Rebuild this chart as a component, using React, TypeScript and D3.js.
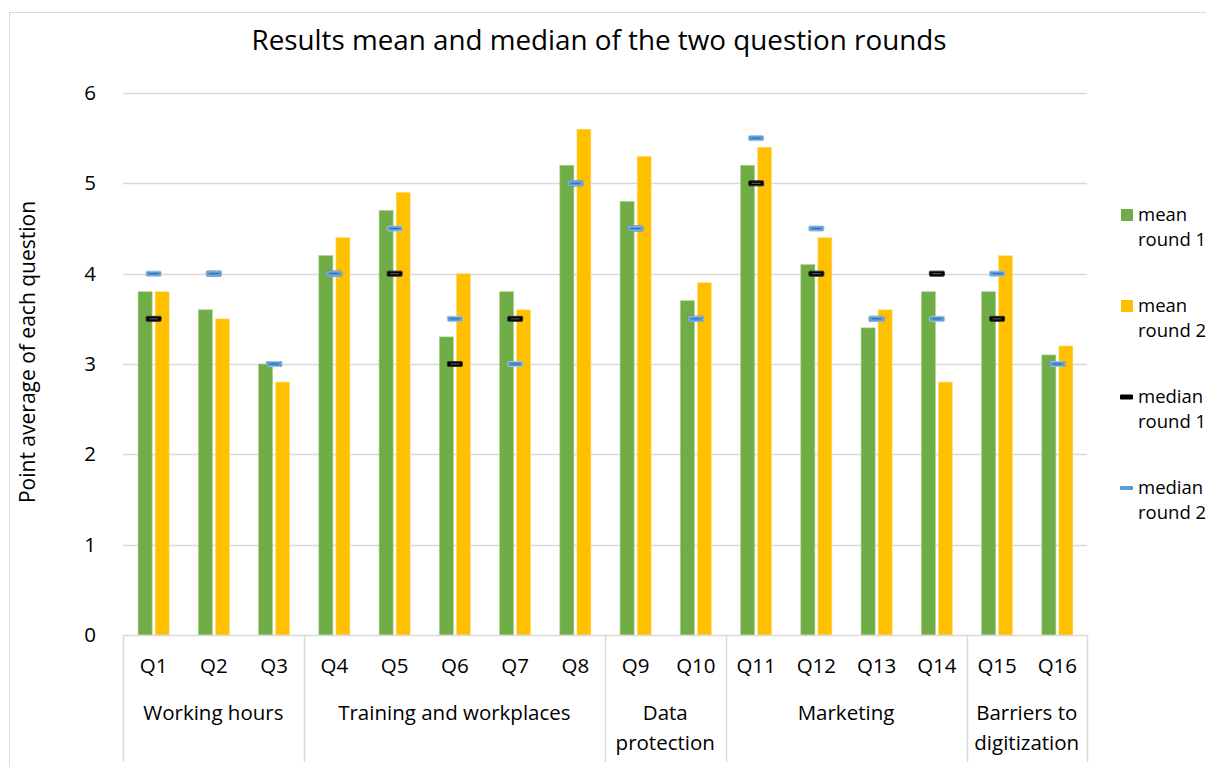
import React from 'react';
import * as d3 from 'd3';

const questions = ['Q1','Q2','Q3','Q4','Q5','Q6','Q7','Q8','Q9','Q10','Q11','Q12','Q13','Q14','Q15','Q16'];
const meanRound1 = [3.8,3.6,3.0,4.2,4.7,3.3,3.8,5.2,4.8,3.7,5.2,4.1,3.4,3.8,3.8,3.1];
const meanRound2 = [3.8,3.5,2.8,4.4,4.9,4.0,3.6,5.6,5.3,3.9,5.4,4.4,3.6,2.8,4.2,3.2];
const medianRound1 = [3.5,4,3,4,4,3,3.5,5,4.5,3.5,5,4,3.5,4,3.5,3];
const medianRound2 = [4,4,3,4,4.5,3.5,3,5,4.5,3.5,5.5,4.5,3.5,3.5,4,3];
const groupLabels = [['Working hours'],['Training and workplaces'],['Data','protection'],['Marketing'],['Barriers to','digitization']];
const groupSizes = [3,5,2,4,2];
const yTicks = [0,1,2,3,4,5,6];
const legendLabels = [['mean','round 1'],['mean','round 2'],['median','round 1'],['median','round 2']];

const GREEN = '#70ad47';
const YELLOW = '#ffc000';
const BLUE = '#5b9bd5';
const GRID = '#d9d9d9';
const FONT = '"Open Sans", Lato, sans-serif';
const FS = 20.5;

export default function App() {
  const x = d3.scaleBand<string>().domain(questions).range([123, 1087]).paddingInner(0).paddingOuter(0);
  const y = d3.scaleLinear().domain([0, 6]).range([635, 93]);
  const bw = x.bandwidth();
  const barW = bw * 0.233;
  const gap = 3;
  const cx = (q: string) => (x(q) as number) + bw / 2;

  const boundaries: number[] = [];
  let acc = 0;
  boundaries.push(x.range()[0]);
  groupSizes.forEach(s => { acc += s; boundaries.push(x(questions[acc - 1]) as number + bw); });

  const medianMarker = (key: string, cxv: number, cyv: number, kind: 'black' | 'blue') => (
    <g key={key}>
      <rect x={cxv - 7.5} y={cyv - 2.5} width={15} height={5} rx={1}
        fill={kind === 'black' ? '#000' : BLUE}
        stroke={kind === 'black' ? '#333' : '#9dc3e6'} strokeWidth={1} />
      <line x1={cxv - 4.5} x2={cxv + 4.5} y1={cyv} y2={cyv}
        stroke={kind === 'black' ? '#666' : '#2e6db0'} strokeWidth={1} />
    </g>
  );

  let groupStart = 0;
  const groupEls = groupLabels.map((lines, gi) => {
    const s = groupStart;
    const e = groupStart + groupSizes[gi];
    groupStart = e;
    const left = x(questions[s]) as number;
    const right = (x(questions[e - 1]) as number) + bw;
    const mid = (left + right) / 2;
    return (
      <text key={'g' + gi} x={mid} y={720} textAnchor="middle" fontFamily={FONT} fontSize={FS} fill="#000">
        {lines.map((l, li) => (
          <tspan key={li} x={mid} dy={li === 0 ? 0 : 30}>{l}</tspan>
        ))}
      </text>
    );
  });

  const legendY = [215, 306, 397, 488];

  return (
    <svg width={1206} height={767} style={{ position: 'absolute', left: 0, top: 0, background: '#fff' }}>
      <rect x={0} y={0} width={1206} height={767} fill="#fff" />
      <rect x={9.5} y={12.5} width={1210} height={780} fill="none" stroke={GRID} strokeWidth={1} />
      <text x={599} y={50} textAnchor="middle" fontFamily={FONT} fontSize={27.8} fill="#000">Results mean and median of the two question rounds</text>
      {yTicks.map(t => (
        <g key={'t' + t}>
          {t > 0 && <line x1={123} x2={1087} y1={Math.round(y(t)) + 0.5} y2={Math.round(y(t)) + 0.5} stroke={GRID} strokeWidth={1.5} />}
          <text x={96} y={y(t) + 7} textAnchor="end" fontFamily={FONT} fontSize={FS} fill="#000">{t}</text>
        </g>
      ))}
      <text transform={`translate(35,352) rotate(-90)`} textAnchor="middle" fontFamily={FONT} fontSize={21} fill="#000">Point average of each question</text>
      {questions.map((q, i) => (
        <g key={'b' + q}>
          <rect x={cx(q) - gap / 2 - barW + 0.5} y={y(meanRound1[i])} width={barW} height={y(0) - y(meanRound1[i])} fill={GREEN} stroke="#a9d18e" strokeWidth={0.6} />
          <rect x={cx(q) + gap / 2 + 0.5} y={y(meanRound2[i])} width={barW} height={y(0) - y(meanRound2[i])} fill={YELLOW} stroke="#ffe08a" strokeWidth={0.6} />
        </g>
      ))}
      <line x1={123} x2={1087} y1={635.5} y2={635.5} stroke={GRID} strokeWidth={1.5} />
      {boundaries.map((b, i) => (
        <line key={'v' + i} x1={Math.round(b) + 0.5} x2={Math.round(b) + 0.5} y1={635} y2={762} stroke={GRID} strokeWidth={1.5} />
      ))}
      {questions.map((q, i) => medianMarker('m1' + q, cx(q) + 0.5, y(medianRound1[i]), 'black'))}
      {questions.map((q, i) => medianMarker('m2' + q, cx(q) + 0.5, y(medianRound2[i]), 'blue'))}
      {questions.map(q => (
        <text key={'q' + q} x={cx(q) + 0.5} y={673} textAnchor="middle" fontFamily={FONT} fontSize={FS} fill="#000">{q}</text>
      ))}
      {groupEls}
      {legendLabels.map((lines, i) => {
        const ly = legendY[i];
        return (
          <g key={'l' + i}>
            {i === 0 && <rect x={1121} y={ly - 6} width={12} height={12} fill={GREEN} />}
            {i === 1 && <rect x={1121} y={ly - 6} width={12} height={12} fill={YELLOW} />}
            {i === 2 && <rect x={1120} y={ly - 2.5} width={13} height={5} rx={1} fill="#000" />}
            {i === 3 && <rect x={1120} y={ly - 2} width={13} height={4} rx={1} fill={BLUE} />}
            <text x={1138} y={ly + 6} fontFamily={FONT} fontSize={18.5} fill="#000">
              {lines.map((l, li) => (
                <tspan key={li} x={1138} dy={li === 0 ? 0 : 25}>{l}</tspan>
              ))}
            </text>
          </g>
        );
      })}
    </svg>
  );
}
